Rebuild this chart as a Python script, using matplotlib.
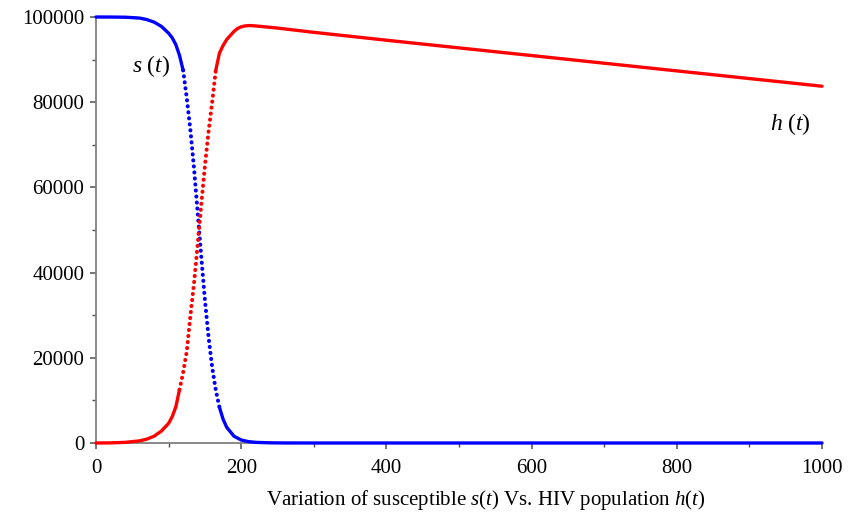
import matplotlib
matplotlib.use("Agg")
import matplotlib.pyplot as plt
from matplotlib.ticker import MultipleLocator

plt.rcParams['font.family'] = ['Liberation Serif', 'DejaVu Serif']
plt.rcParams['mathtext.fontset'] = 'custom'
plt.rcParams['mathtext.rm'] = 'Liberation Serif'
plt.rcParams['mathtext.it'] = 'Liberation Serif:italic'

# susceptible s(t)
s_t = [0, 20, 40, 60, 70, 80, 90, 100, 105, 110, 115, 120, 125, 130, 135, 140,
       145, 150, 155, 160, 165, 170, 175, 180, 190, 200, 210, 220, 240, 260,
       300, 400, 600, 800, 1000]
s_vals = [100000, 99990, 99950, 99750, 99400, 98800, 97800, 96200, 95100, 93500,
          91000, 87500, 81000, 73500, 64500, 54200, 43700, 33600, 24900, 17800,
          12400, 8400, 5600, 3700, 1600, 700, 320, 150, 40, 10,
          0, 0, 0, 0, 0]

# HIV population h(t)
h_t = [0, 20, 40, 60, 70, 80, 90, 100, 105, 110, 115, 120, 125, 130, 135, 140,
       145, 150, 155, 160, 165, 170, 175, 180, 190, 195, 200, 205, 212, 220,
       250, 300, 400, 500, 600, 700, 800, 900, 1000]
h_vals = [0, 30, 150, 500, 900, 1600, 2800, 4600, 6200, 8500, 12500, 16500,
          21500, 29800, 37500, 46500, 56000, 65000, 73000, 80000, 87500, 91500,
          93300, 94700, 96600, 97300, 97700, 97900, 98000, 97900,
          97400, 96400, 94550, 92750, 90950, 89150, 87350, 85550, 83750]

fig = plt.figure(figsize=(8.58, 5.27), dpi=100)
ax = fig.add_axes([96/858, 84/527, 726/858, 426/527])

BLUE = '#0000ff'
RED = '#ff0000'
solid_kw = dict(lw=2.4, solid_capstyle='round', clip_on=False, zorder=3)
dot_kw = dict(lw=2.9, linestyle=(0, (0.05, 1.45)), dash_capstyle='round',
              clip_on=False, zorder=3)

# s(t): steep part dotted (indices 11..21 -> t 120..170)
ax.plot(s_t[:12], s_vals[:12], color=BLUE, **solid_kw)
ax.plot(s_t[11:22], s_vals[11:22], color=BLUE, **dot_kw)
ax.plot(s_t[21:], s_vals[21:], color=BLUE, **solid_kw)

# h(t): steep part dotted (indices 10..20 -> t 115..165)
ax.plot(h_t[:11], h_vals[:11], color=RED, **solid_kw)
ax.plot(h_t[10:21], h_vals[10:21], color=RED, **dot_kw)
ax.plot(h_t[20:], h_vals[20:], color=RED, **solid_kw)

ax.set_xlim(0, 1000)
ax.set_ylim(0, 100000)
ax.xaxis.set_major_locator(MultipleLocator(200))
ax.xaxis.set_minor_locator(MultipleLocator(100))
ax.yaxis.set_major_locator(MultipleLocator(20000))
ax.yaxis.set_minor_locator(MultipleLocator(10000))

for side in ('top', 'right'):
    ax.spines[side].set_visible(False)
for side in ('left', 'bottom'):
    ax.spines[side].set_color('#808080')
    ax.spines[side].set_linewidth(1.3)

ax.tick_params(which='major', direction='out', length=4.5, width=1.1,
               color='#505050', labelsize=15)
ax.tick_params(axis='x', which='major', pad=7)
ax.tick_params(axis='y', which='major', pad=4)
ax.tick_params(which='minor', direction='out', length=3, width=1.0,
               color='#505050')

ax.text(50, 87000, r'$s\ (t)$', fontsize=17, ha='left', va='baseline')
ax.text(928, 73500, r'$h\ (t)$', fontsize=17, ha='left', va='baseline')

fig.text(486/858, 1 - 500/527,
         r'Variation of susceptible $s$($t$) Vs. HIV population $h$($t$)',
         fontsize=15, ha='center', va='center')

fig.savefig('out.png', dpi=100)
